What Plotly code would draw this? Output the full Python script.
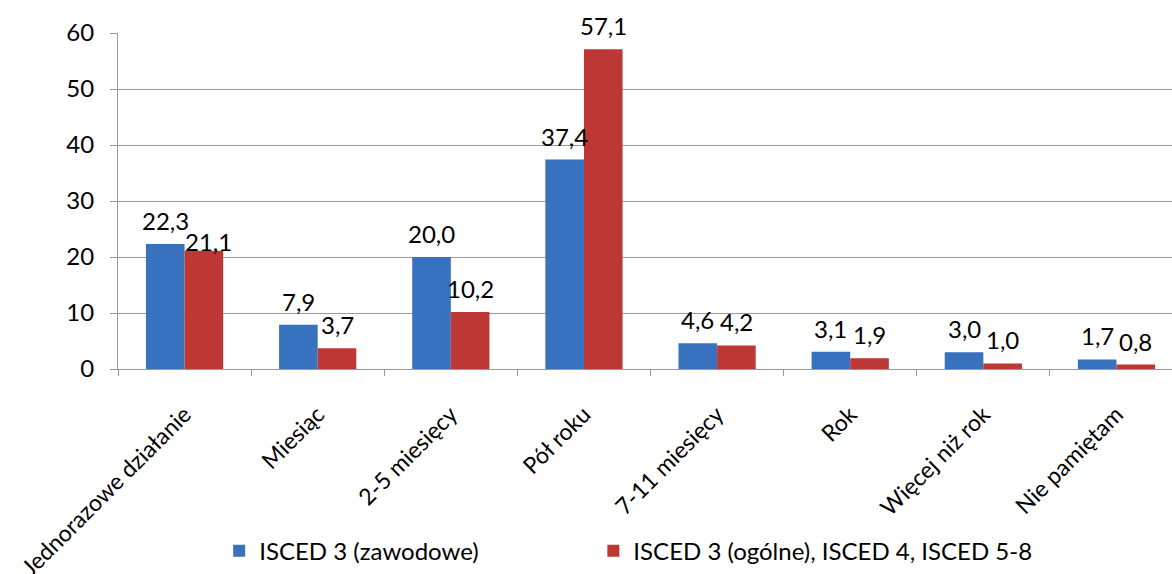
import plotly.graph_objects as go

categories = [
    "Jednorazowe działanie",
    "Miesiąc",
    "2-5 miesięcy",
    "Pół roku",
    "7-11 miesięcy",
    "Rok",
    "Więcej niż rok",
    "Nie pamiętam",
]
series_names = ["ISCED 3 (zawodowe)", "ISCED 3 (ogólne), ISCED 4, ISCED 5-8"]
vocational = [22.3, 7.9, 20.0, 37.4, 4.6, 3.1, 3.0, 1.7]
general = [21.1, 3.7, 10.2, 57.1, 4.2, 1.9, 1.0, 0.8]
y_ticks = [0, 10, 20, 30, 40, 50, 60]

FONT = "Lato, Calibri, Carlito, sans-serif"
FS = 24
BLUE = "#3871BE"
RED = "#BD3735"
GRID = "#9a9a9a"
BARGAP = 0.42
half = (1 - BARGAP) / 4  # offset of each bar centre from the category centre

fig = go.Figure()
for name, vals, col, leg in [(series_names[0], vocational, BLUE, "legend"),
                             (series_names[1], general, RED, "legend2")]:
    fig.add_trace(go.Bar(
        name=name, x=categories, y=vals, legend=leg,
        marker=dict(color=col, line=dict(width=0)),
    ))

def fmt(v):
    return f"{v:.1f}".replace(".", ",")

annotations = []
for s, (vals, sign) in enumerate([(vocational, -1), (general, 1)]):
    for i, v in enumerate(vals):
        yshift, xshift = 7, 0
        # the second label of the first group sits tight on its bar
        if s == 1 and i == 0:
            yshift, xshift = -7, 5
        annotations.append(dict(
            x=i + sign * half, y=v, xref="x", yref="y",
            text=fmt(v), showarrow=False, yanchor="bottom",
            yshift=yshift, xshift=xshift,
            font=dict(family=FONT, size=FS, color="#000"),
        ))

legend_common = dict(
    orientation="h", xanchor="left", y=-0.542, yanchor="middle",
    font=dict(family=FONT, size=FS, color="#000"),
    itemclick=False, itemdoubleclick=False, bgcolor="rgba(0,0,0,0)",
)

fig.update_layout(
    width=1172, height=574,
    margin=dict(l=118, r=0, t=33, b=205, autoexpand=False),
    paper_bgcolor="white", plot_bgcolor="white",
    barmode="group", bargap=BARGAP, bargroupgap=0,
    font=dict(family=FONT, size=FS, color="#000"),
    annotations=annotations,
    showlegend=True,
    legend=dict(x=0.096, **legend_common),
    legend2=dict(x=0.451, **legend_common),
    xaxis=dict(
        type="category", range=[-0.5, 7.417], automargin=False,
        tickangle=-45, ticks="outside", tickson="boundaries",
        ticklen=6, tickcolor=GRID, showline=True, linecolor=GRID,
        showgrid=False, ticklabelstandoff=22,
        tickfont=dict(family=FONT, size=23, color="#000"),
    ),
    yaxis=dict(
        range=[0, 60], tickvals=y_ticks, ticks="outside", ticklen=7,
        automargin=False,
        tickcolor=GRID, showline=True, linecolor=GRID,
        showgrid=True, gridcolor=GRID, gridwidth=1, zeroline=False,
        ticklabelstandoff=11,
        tickfont=dict(family=FONT, size=FS, color="#000"),
    ),
)

fig.write_html("out.html")
